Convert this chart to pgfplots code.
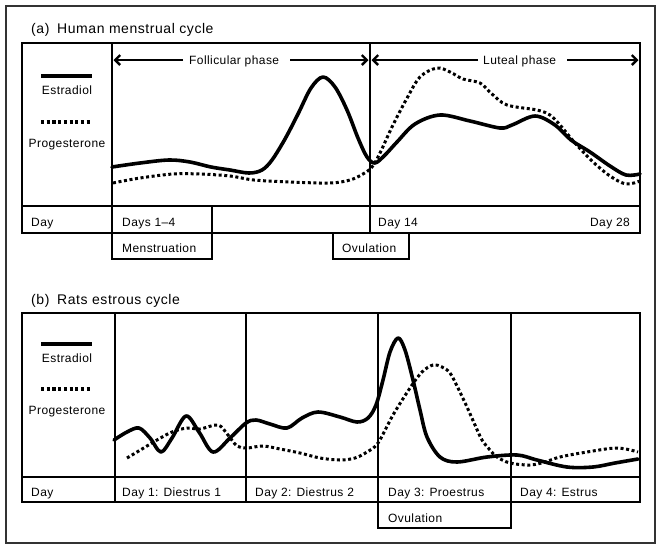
\documentclass[border=0pt]{standalone}
\usepackage{fontspec}
\setmainfont{Liberation Sans}[LetterSpace=3.5]
\newfontfamily\ttlfont{Liberation Sans}[LetterSpace=4]
\usepackage{pgfplots}
\pgfplotsset{compat=1.18}
\usetikzlibrary{arrows.meta}
\tikzset{
  estr/.style={black, line width=3.6pt, smooth, tension=0.55, line cap=round, line join=round},
  prog/.style={black, line width=3pt, smooth, tension=0.55, dash pattern=on 3pt off 2.6pt},
  lab/.style={anchor=base west, inner sep=0pt, font=\fontsize{12}{14}\selectfont},
  ttl/.style={anchor=base west, inner sep=0pt, font=\ttlfont\fontsize{14}{16}\selectfont},
}

\begin{document}
\begin{tikzpicture}
\begin{axis}[
  width=662pt, height=550pt, scale only axis,
  xmin=0, xmax=662, ymin=0, ymax=550, y dir=reverse,
  hide axis, clip=false,
]
% enforce bounding box
\path (0,0) rectangle (662,550);
% outer border
\draw[line width=1.5pt, black!80] (6,6) rectangle (655,543);

% ================= Panel (a) =================
\node[ttl] at (31,33) {(a)};
\node[ttl] at (57,33) {Human menstrual cycle};
\begin{scope}[line width=2.8pt]
\draw (22,43) rectangle (640,233);
\draw (22,206) -- (640,206);
\draw (112,43) -- (112,259) -- (212,259) -- (212,206);
\draw (333,233) -- (333,259) -- (409,259) -- (409,233);
\end{scope}
\draw[line width=2.2pt] (370,43) -- (370,233);
% phase arrows
\draw[line width=2.4pt, -{Straight Barb[length=5pt,width=10pt]}] (183,60) -- (113.5,60);
\draw[line width=2.4pt, -{Straight Barb[length=5pt,width=10pt]}] (290,60) -- (368.5,60);
\draw[line width=2.4pt, -{Straight Barb[length=5pt,width=10pt]}] (478,60) -- (371.5,60);
\draw[line width=2.4pt, -{Straight Barb[length=5pt,width=10pt]}] (567,60) -- (638.5,60);
\node[lab] at (189,64) {Follicular phase};
\node[lab] at (483,64) {Luteal phase};
% legend (a)
\addplot[black, line width=4pt, forget plot] coordinates {(41,76) (92,76)};
\node[lab, anchor=base] at (67,94.5) {Estradiol};
\addplot[black, line width=3.2pt, dash pattern=on 3.2pt off 2.5pt, forget plot] coordinates {(41,122) (92,122)};
\node[lab, anchor=base] at (67,147) {Progesterone};
% row labels (a)
\node[lab] at (31,226) {Day};
\node[lab] at (122,226) {Days 1–4};
\node[lab] at (378,226) {Day 14};
\node[lab, anchor=base east] at (630,226) {Day 28};
\node[lab] at (122,252) {Menstruation};
\node[lab] at (342,252) {Ovulation};

% Estradiol (a)
\addplot[estr] coordinates {
(112,167) (140,163) (169,160) (190,162) (211,167) (230,170) (249,173) (262,170)
(272,160) (285,139) (298,114) (311,88) (323,77) (335,87) (347,110) (358,138)
(367,157) (375,163) (385,155) (397,142) (415,124) (440,115) (470,121) (500,128)
(512,125) (535,116) (555,125) (571,140) (590,152) (610,166) (626,175) (640,174)};
% Progesterone (a)
\addplot[prog] coordinates {
(113,183) (140,178) (173,174) (200,174) (230,176) (254,180) (290,182) (330,183)
(350,180) (363,174) (372,167) (380,153) (392,127) (406,100) (420,77) (437,68)
(450,72) (463,79) (480,83) (492,94) (507,105) (537,110) (550,115) (560,125)
(575,143) (592,161) (610,176) (626,184) (640,181)};

% ================= Panel (b) =================
\node[ttl] at (31,304) {(b)};
\node[ttl] at (57,304) {Rats estrous cycle};
\begin{scope}[line width=2.8pt]
\draw (22,313) rectangle (640,502);
\draw (22,477) -- (640,477);
\draw (115,313) -- (115,502);
\draw (378,477) -- (378,528) -- (511,528) -- (511,477);
\end{scope}
\draw[line width=2.2pt] (246,313) -- (246,502);
\draw[line width=2.2pt] (378,313) -- (378,477);
\draw[line width=2.2pt] (511,313) -- (511,477);
% legend (b)
\addplot[black, line width=4pt, forget plot] coordinates {(41,344) (92,344)};
\node[lab, anchor=base] at (67,362.5) {Estradiol};
\addplot[black, line width=3.2pt, dash pattern=on 3.2pt off 2.5pt, forget plot] coordinates {(41,389) (92,389)};
\node[lab, anchor=base] at (67,414.5) {Progesterone};
% row labels (b)
\node[lab] at (31,496) {Day};
\node[lab] at (122,496) {Day 1: Diestrus 1};
\node[lab] at (255,496) {Day 2: Diestrus 2};
\node[lab] at (388,496) {Day 3: Proestrus};
\node[lab] at (520,496) {Day 4: Estrus};
\node[lab] at (388,522) {Ovulation};

% Estradiol (b)
\addplot[estr] coordinates {
(114,440) (127,432) (139,428) (150,438) (161,452) (172,438) (186,416) (199,432)
(213,452) (230,438) (246,423) (256,420) (270,424) (287,428) (302,418) (318,412)
(340,417) (357,422) (368,418) (376,405) (383,380) (390,352) (398,338) (405,350)
(413,380) (420,410) (427,437) (440,457) (457,462) (487,457) (517,455) (537,460)
(567,467) (593,467) (615,463) (638,459)};
% Progesterone (b)
\addplot[prog] coordinates {
(127,458) (142,449) (157,440) (172,432) (187,428) (200,429) (218,425) (228,435)
(237,446) (247,448) (263,446) (280,449) (300,453) (320,458) (340,460) (355,458)
(367,452) (378,443) (393,415) (410,388) (422,372) (433,365) (442,367) (450,373)
(458,388) (467,407) (475,425) (482,440) (490,450) (497,457) (510,463) (530,465)
(545,462) (560,457) (587,452) (617,448) (638,452)};
\end{axis}
\end{tikzpicture}
\end{document}
